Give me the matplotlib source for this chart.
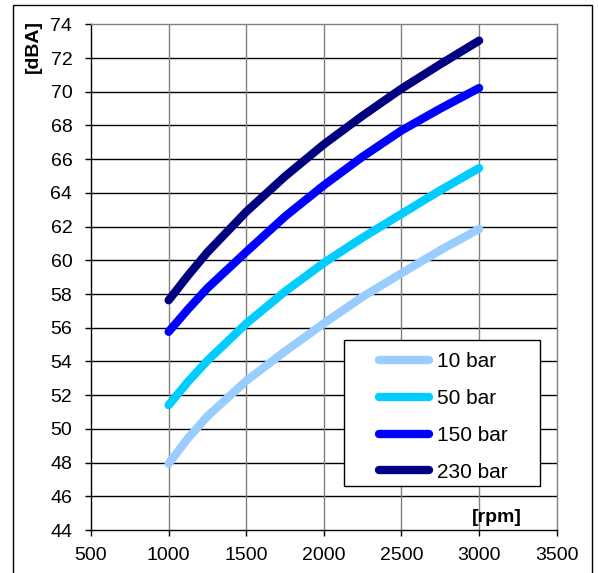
import matplotlib
matplotlib.use("Agg")
import matplotlib.pyplot as plt
from matplotlib.patches import Rectangle

plt.rcParams['font.family'] = ['Liberation Sans', 'DejaVu Sans']

rpm = [1000, 1125, 1250, 1500, 1750, 2000, 2250, 2500, 2750, 3000]
bar10 = [47.94, 49.45, 50.75, 52.85, 54.6, 56.26, 57.84, 59.23, 60.6, 61.86]
bar50 = [51.41, 52.8, 54.05, 56.25, 58.15, 59.85, 61.35, 62.75, 64.15, 65.47]
bar150 = [55.76, 57.1, 58.35, 60.5, 62.6, 64.45, 66.15, 67.7, 69.0, 70.22]
bar230 = [57.63, 59.1, 60.48, 62.88, 64.98, 66.88, 68.58, 70.18, 71.63, 73.03]

series = [('10 bar', bar10, '#99CCFF'),
          ('50 bar', bar50, '#00CCFF'),
          ('150 bar', bar150, '#0000FF'),
          ('230 bar', bar230, '#000080')]

xticks = [500, 1000, 1500, 2000, 2500, 3000, 3500]
yticks = list(range(44, 75, 2))

fig = plt.figure(figsize=(5.98, 5.73), dpi=100)
ax = fig.add_axes([0.1522, 0.075, 0.7788, 0.8826])

# outer frame of the chart area
fig.patches.append(Rectangle((13 / 598, -0.02), 579 / 598, 1 - 5 / 573 + 0.02,
                             transform=fig.transFigure, fill=False,
                             edgecolor='black', linewidth=1.0, zorder=0))

for name, vals, col in series:
    ax.plot(rpm, vals, color=col, linewidth=6, solid_capstyle='round',
            solid_joinstyle='round', label=name, zorder=3)

ax.set_xlim(500, 3500)
ax.set_ylim(44, 74)
ax.set_xticks(xticks)
ax.set_yticks(yticks)
ax.tick_params(labelsize=14, length=4.5, width=1, direction='out')
ax.tick_params(axis='y', pad=9)
ax.tick_params(axis='x', pad=7.5)

for y in yticks[1:-1]:
    ax.axhline(y, color='black', linewidth=1.0, zorder=1)
for x in xticks[1:-1]:
    ax.axvline(x, color='#808080', linewidth=1.0, zorder=1)

ax.spines['left'].set_color('black')
ax.spines['bottom'].set_color('black')
ax.spines['top'].set_color('#808080')
ax.spines['right'].set_color('#808080')
for s in ax.spines.values():
    s.set_linewidth(1.0)

fig.text(33 / 598, 0.919, '[dBA]', rotation=90, fontsize=14, fontweight='bold',
         ha='center', va='center')
ax.text(0.871, 0.025, '[rpm]', transform=ax.transAxes, fontsize=14,
        fontweight='bold', ha='center', va='center')

# legend box drawn separately so the padding matches
ax.add_patch(Rectangle((0.544, 0.087), 0.419, 0.2887, transform=ax.transAxes,
                       facecolor='white', edgecolor='black', linewidth=1.0,
                       zorder=4))
leg = ax.legend(loc='upper left', bbox_to_anchor=(0.6184, 0.352),
                borderaxespad=0, borderpad=0, fontsize=15, handlelength=2.4,
                labelspacing=0.86, handletextpad=0.38, frameon=False)
leg.set_zorder(5)

fig.savefig('out.png', dpi=100)
